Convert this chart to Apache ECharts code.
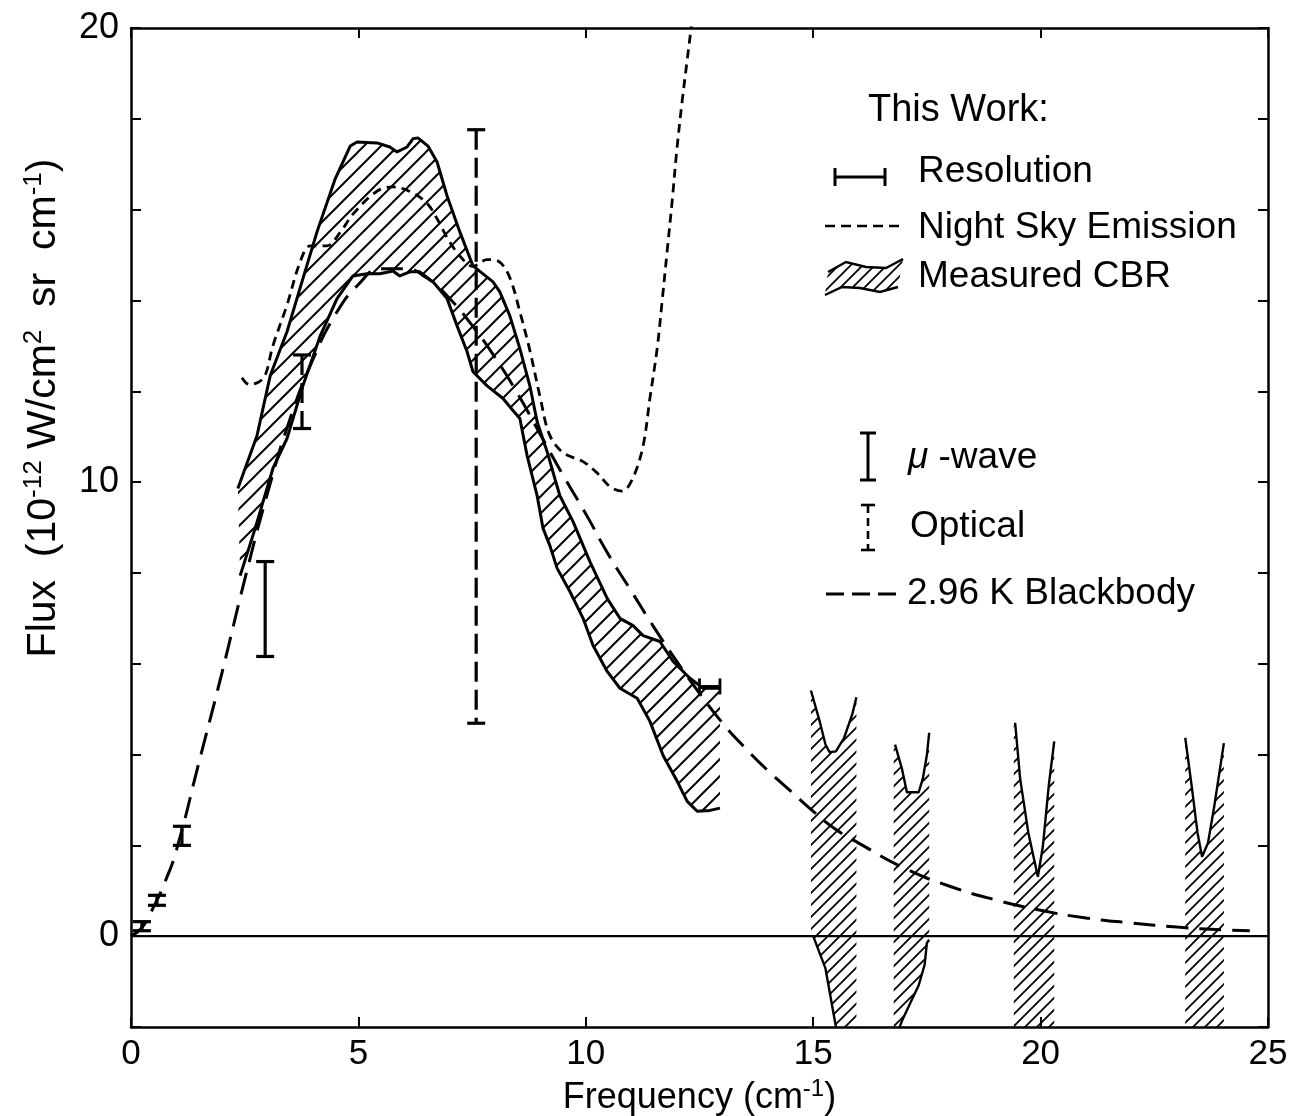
<!DOCTYPE html>
<html>
<head>
<meta charset="utf-8">
<title>CBR spectrum</title>
<script src="https://cdn.jsdelivr.net/npm/echarts@6/dist/echarts.min.js"></script>
<style>
  html, body { margin: 0; padding: 0; background: #fff; }
  #chart { width: 1302px; height: 1116px; }
</style>
</head>
<body>
<div id="chart"></div>
<script>
// values: [frequency (cm^-1), flux (1e-12 W/cm^2 sr cm^-1)]
const blackbody = [
  [0, 0], [0.25, 0.2], [0.5, 0.65], [0.75, 1.2], [1, 1.9], [1.5, 3.85], [2, 5.8],
  [2.5, 7.85], [3, 9.75], [3.5, 11.4], [4, 12.7], [4.5, 13.7], [5, 14.35], [5.5, 14.7],
  [6, 14.7], [6.5, 14.5], [7, 14.05], [7.5, 13.45], [8, 12.75], [8.5, 11.95], [9, 11.05],
  [9.5, 10.15], [10, 9.3], [10.5, 8.4], [11, 7.6], [11.5, 6.8], [12, 6.05], [12.5, 5.35],
  [13, 4.7], [13.5, 4.15], [14, 3.65], [14.5, 3.2], [15, 2.75], [15.5, 2.35], [16, 2.05],
  [17, 1.5], [18, 1.1], [19, 0.8], [20, 0.57], [21, 0.4], [22, 0.29], [23, 0.2],
  [24, 0.14], [24.6, 0.12]
]

const nightSky = [
  [2.44, 12.3], [2.6, 12.15], [2.8, 12.2], [2.95, 12.35], [3.12, 13.0], [3.43, 13.9],
  [3.72, 14.85], [3.94, 15.2], [4.3, 15.2], [4.6, 15.5], [4.88, 15.9], [5.4, 16.4],
  [5.76, 16.5], [6.13, 16.4], [6.5, 16.15], [6.73, 15.8], [7.0, 15.3], [7.3, 14.9],
  [7.52, 14.75], [7.83, 14.9], [8.1, 14.85], [8.33, 14.5], [8.55, 13.75], [8.77, 12.9],
  [9.0, 11.85], [9.2, 11.05], [9.5, 10.65], [9.94, 10.45], [10.25, 10.2], [10.53, 9.9],
  [10.8, 9.8], [11.04, 10.1], [11.26, 10.8], [11.41, 11.85], [11.57, 12.95], [11.68, 14.0],
  [11.79, 15.1], [11.9, 16.2], [12.0, 17.3], [12.12, 18.4], [12.23, 19.3], [12.31, 19.95],
  [12.38, 20.5]
]

const cbrUpper = [
  [2.35, 9.86], [2.77, 11.02], [3.06, 12.34], [3.43, 13.31], [3.78, 14.48], [4.09, 15.51],
  [4.49, 16.68], [4.82, 17.4], [4.97, 17.49], [5.41, 17.47], [5.69, 17.38], [5.85, 17.27],
  [6.07, 17.38], [6.2, 17.56], [6.31, 17.58], [6.53, 17.4], [6.73, 17.05], [6.95, 16.3],
  [7.23, 15.51], [7.52, 14.76], [7.96, 14.41], [8.11, 14.19], [8.33, 13.66], [8.55, 12.94],
  [8.77, 12.12], [8.93, 11.33], [9.15, 10.67], [9.33, 10.04], [9.43, 9.7], [9.72, 9.13],
  [10.09, 8.25], [10.47, 7.44], [10.75, 7.0], [11.04, 6.84], [11.26, 6.62], [11.63, 6.49],
  [11.92, 6.05], [12.29, 5.68], [12.58, 5.46], [12.95, 5.46]
]

const cbrLower = [
  [2.4, 7.94], [2.73, 8.98], [3.12, 10.3], [3.43, 10.96], [3.78, 12.12], [4.16, 13.22],
  [4.53, 14.04], [4.88, 14.54], [5.19, 14.59], [5.47, 14.59], [5.76, 14.65], [5.91, 14.54],
  [6.13, 14.63], [6.35, 14.63], [6.64, 14.41], [6.95, 14.04], [7.17, 13.44], [7.39, 12.87],
  [7.52, 12.43], [7.83, 12.12], [8.18, 11.84], [8.38, 11.6], [8.55, 11.4], [8.71, 10.58],
  [8.93, 9.7], [9.06, 8.98], [9.21, 8.6], [9.37, 8.1], [9.65, 7.59], [9.94, 7.0],
  [10.16, 6.4], [10.47, 5.83], [10.75, 5.46], [11.13, 5.24], [11.41, 4.73], [11.7, 3.98],
  [12.01, 3.41], [12.23, 2.97], [12.45, 2.75], [12.73, 2.77], [12.95, 2.82]
]

// high-frequency windows
const strip1Curve = [[14.95, 5.41], [15.14, 4.74], [15.27, 4.22], [15.36, 4.05], [15.5, 4.07], [15.68, 4.37], [15.86, 4.89], [15.95, 5.26]]
const strip1Below = [[15.0, 0], [15.27, -0.71], [15.5, -2]]
const strip2Curve = [[16.77, 4.25], [16.8, 4.22], [16.95, 3.69], [17.06, 3.17], [17.32, 3.17], [17.41, 3.47], [17.5, 3.99], [17.55, 4.48]]
const strip2Below = [[17.55, -0.08], [17.5, -0.15], [17.45, -0.63], [17.32, -1.08], [17.14, -1.46], [16.95, -1.87], [16.9, -2]]
const strip3Curve = [[19.41, 4.72], [19.44, 4.7], [19.55, 3.47], [19.73, 2.28], [19.94, 1.31], [20.05, 1.98], [20.18, 3.32], [20.3, 4.29]]
const strip4Curve = [[23.18, 4.37], [23.32, 3.32], [23.45, 2.28], [23.55, 1.75], [23.68, 2.05], [23.82, 2.87], [24.03, 4.25]]

// error bars: [x, low, high]
const microwave = [[0.24, 0.12, 0.32], [0.57, 0.68, 0.9], [1.12, 2.0, 2.42], [2.95, 6.16, 8.25]]
const optical = [[3.76, 11.18, 12.8], [7.59, 4.69, 17.76]]
// resolution: [x start, x end, y]
const resolution = [[12.5, 12.95, 5.5]]

const xTicks = [0, 5, 10, 15, 20, 25]
const yLabelled = [0, 10, 20]

const FONT = 'Liberation Sans, Arial, sans-serif'

// hatch pattern tile
const makeHatch = (step, w) => {
  const c = document.createElement('canvas')
  c.width = step
  c.height = step
  const g = c.getContext('2d')
  g.strokeStyle = '#000'
  g.lineWidth = w
  g.beginPath()
  g.moveTo(0, step); g.lineTo(step, 0)
  g.moveTo(-step / 2, step / 2); g.lineTo(step / 2, -step / 2)
  g.moveTo(step / 2, step * 1.5); g.lineTo(step * 1.5, step / 2)
  g.stroke()
  return c
}
const bandHatch = { image: makeHatch(17, 2), repeat: 'repeat' }
const stripHatch = { image: makeHatch(12, 1.8), repeat: 'repeat' }

const bandPoly = cbrUpper.concat(cbrLower.slice().reverse())
const stripPolys = [
  strip1Curve.concat([[15.95, -2]], strip1Below.slice().reverse(), [[14.95, 0]]),
  strip2Curve.concat(strip2Below, [[16.77, -2]]),
  strip3Curve.concat([[20.3, -2], [19.41, -2]]),
  strip4Curve.concat([[24.03, -2], [23.18, -2]])
]

const solid = (name, data, width) => ({
  name, type: 'line', data, symbol: 'none', silent: true, z: 4,
  lineStyle: { color: '#000', width: width || 3 }
})

const errorBar = (dash, cap) => (params, api) => {
  const x = api.value(0)
  const top = api.coord([x, api.value(2)])
  const bot = api.coord([x, api.value(1)])
  const st = { stroke: '#000', lineWidth: 3.2 }
  return {
    type: 'group',
    children: [
      { type: 'line', shape: { x1: top[0], y1: top[1], x2: bot[0], y2: bot[1] }, style: Object.assign({}, st, { lineDash: dash }) },
      { type: 'line', shape: { x1: top[0] - cap, y1: top[1], x2: top[0] + cap, y2: top[1] }, style: st },
      { type: 'line', shape: { x1: bot[0] - cap, y1: bot[1], x2: bot[0] + cap, y2: bot[1] }, style: st }
    ]
  }
}

const sup = { fontSize: 24, fontFamily: FONT, color: '#000', lineHeight: 24, verticalAlign: 'top' }
const normal = { fontSize: 36, fontFamily: FONT, color: '#000', lineHeight: 42 }
const supY = { fontSize: 26, fontFamily: FONT, color: '#000', lineHeight: 26, verticalAlign: 'top' }
const normalY = { fontSize: 41, fontFamily: FONT, color: '#000', lineHeight: 46 }

const txt = (x, y, text, extra) => ({
  type: 'text', x, y, silent: true,
  style: Object.assign({ text, fontSize: 37, fontFamily: FONT, fill: '#000', verticalAlign: 'middle' }, extra || {})
})
const seg = (x1, y1, x2, y2, extra) => ({
  type: 'line', silent: true, shape: { x1, y1, x2, y2 },
  style: Object.assign({ stroke: '#000', lineWidth: 3 }, extra || {})
})

const chart = echarts.init(document.getElementById('chart'))

const axisCommon = {
  type: 'value',
  axisLine: { show: true, onZero: false, lineStyle: { color: '#000', width: 2.5 } },
  axisTick: { show: true, inside: true, length: 10, lineStyle: { color: '#000', width: 2 } },
  splitLine: { show: false }
}

chart.setOption({
  animation: false,
  backgroundColor: '#fff',
  grid: { left: 131, right: 34, top: 28, bottom: 89, outerBoundsMode: 'none' },
  xAxis: [
    Object.assign({}, axisCommon, {
      min: xTicks[0], max: xTicks[xTicks.length - 1], interval: 5, position: 'bottom',
      axisLabel: { color: '#000', fontSize: 35, fontFamily: FONT, margin: 10, showMinLabel: true, showMaxLabel: true },
      name: '{n|Frequency (cm}{s|-1}{n|)}',
      nameLocation: 'middle', nameGap: 48,
      nameTextStyle: { rich: { n: normal, s: sup } }
    }),
    Object.assign({}, axisCommon, {
      min: xTicks[0], max: xTicks[xTicks.length - 1], interval: 5, position: 'top',
      axisLabel: { show: false }
    })
  ],
  yAxis: [
    Object.assign({}, axisCommon, {
      min: -2, max: 20, interval: 2, position: 'left',
      axisLabel: {
        color: '#000', fontSize: 36, fontFamily: FONT, margin: 12,
        formatter: v => (yLabelled.indexOf(v) >= 0 ? String(v) : '')
      }
    }),
    Object.assign({}, axisCommon, {
      min: -2, max: 20, interval: 2, position: 'right',
      axisLabel: { show: false }
    })
  ],
  series: [
    {
      name: 'Measured CBR', type: 'custom', silent: true, z: 1, data: [[0, 0]],
      renderItem: (params, api) => ({
        type: 'polygon',
        shape: { points: bandPoly.map(p => api.coord(p)) },
        style: { fill: bandHatch, stroke: null }
      })
    },
    {
      name: 'windows', type: 'custom', silent: true, z: 1, data: stripPolys.map((p, i) => [i, 0]),
      renderItem: (params, api) => ({
        type: 'polygon',
        shape: { points: stripPolys[params.dataIndex].map(p => api.coord(p)) },
        style: { fill: stripHatch, stroke: null }
      })
    },
    solid('zero', [[0, 0], [25, 0]], 2.2),
    solid('CBR upper', cbrUpper),
    solid('CBR lower', cbrLower),
    solid('w1', strip1Curve, 2.4),
    solid('w1b', strip1Below, 2.4),
    solid('w2', strip2Curve.slice(1), 2.4),
    solid('w2b', strip2Below, 2.4),
    solid('w3', strip3Curve.slice(1), 2.4),
    solid('w4', strip4Curve, 2.4),
    {
      name: '2.96 K Blackbody', type: 'line', data: blackbody, symbol: 'none', smooth: true, silent: true, z: 5,
      lineStyle: { color: '#000', width: 3, type: [22, 11] }
    },
    {
      name: 'Night Sky Emission', type: 'line', data: nightSky, symbol: 'none', smooth: 0.35, silent: true, z: 5,
      lineStyle: { color: '#000', width: 2.8, type: [9, 6] }
    },
    {
      name: 'μ-wave', type: 'custom', silent: true, z: 6, data: microwave,
      encode: { x: 0, y: [1, 2] },
      renderItem: errorBar(null, 9)
    },
    {
      name: 'Optical', type: 'custom', silent: true, z: 6, data: optical,
      encode: { x: 0, y: [1, 2] },
      renderItem: errorBar([20, 8], 9)
    },
    {
      name: 'Resolution', type: 'custom', silent: true, z: 6, data: resolution,
      encode: { x: [0, 1], y: 2 },
      renderItem: (params, api) => {
        const a = api.coord([api.value(0), api.value(2)])
        const b = api.coord([api.value(1), api.value(2)])
        const st = { stroke: '#000', lineWidth: 2.8 }
        return {
          type: 'group',
          children: [
            { type: 'line', shape: { x1: a[0], y1: a[1], x2: b[0], y2: b[1] }, style: st },
            { type: 'line', shape: { x1: a[0], y1: a[1] - 8, x2: a[0], y2: a[1] + 8 }, style: st },
            { type: 'line', shape: { x1: b[0], y1: b[1] - 8, x2: b[0], y2: b[1] + 8 }, style: st }
          ]
        }
      }
    }
  ],
  graphic: [
    // y axis title
    {
      type: 'text', x: 44, y: 408, rotation: Math.PI / 2, silent: true,
      style: {
        text: '{n|Flux  (10}{s|-12}{n| W/cm}{s|2}{n|  sr  cm}{s|-1}{n|)}',
        rich: { n: normalY, s: supY },
        align: 'center', verticalAlign: 'middle'
      }
    },
    // legend
    txt(868, 111, 'This Work:', { fontSize: 38 }),
    seg(835, 177, 885, 177),
    seg(835, 168, 835, 186),
    seg(885, 168, 885, 186),
    txt(918, 172, 'Resolution'),
    seg(825, 226, 902, 226, { lineWidth: 2.6, lineDash: [10, 6] }),
    txt(918, 228, 'Night Sky Emission'),
    {
      type: 'polygon', silent: true,
      shape: { points: [[828, 272], [846, 262], [866, 267], [886, 268], [903, 259], [898, 287], [880, 292], [860, 288], [842, 287], [825, 295]] },
      style: { fill: stripHatch, stroke: null }
    },
    {
      type: 'polyline', silent: true,
      shape: { points: [[828, 272], [846, 262], [866, 267], [886, 268], [903, 259]] },
      style: { stroke: '#000', lineWidth: 2.4, fill: null }
    },
    {
      type: 'polyline', silent: true,
      shape: { points: [[898, 287], [880, 292], [860, 288], [842, 287], [825, 295]] },
      style: { stroke: '#000', lineWidth: 2.4, fill: null }
    },
    txt(918, 277, 'Measured CBR'),
    seg(868, 433, 868, 480),
    seg(860, 433, 876, 433),
    seg(860, 480, 876, 480),
    {
      type: 'text', x: 908, y: 458, silent: true,
      style: {
        text: '{i|μ}{n| -wave}',
        rich: {
          i: { fontSize: 37, fontFamily: FONT, fontStyle: 'italic', color: '#000' },
          n: { fontSize: 37, fontFamily: FONT, color: '#000' }
        },
        verticalAlign: 'middle'
      }
    },
    seg(868, 505, 868, 550, { lineDash: [8, 5], lineWidth: 2.6 }),
    seg(861, 505, 875, 505, { lineWidth: 2.6 }),
    seg(861, 550, 875, 550, { lineWidth: 2.6 }),
    txt(910, 527, 'Optical'),
    seg(826, 594, 900, 594, { lineWidth: 3, lineDash: [18, 8] }),
    txt(907, 594, '2.96 K Blackbody')
  ]
})
</script>
</body>
</html>
